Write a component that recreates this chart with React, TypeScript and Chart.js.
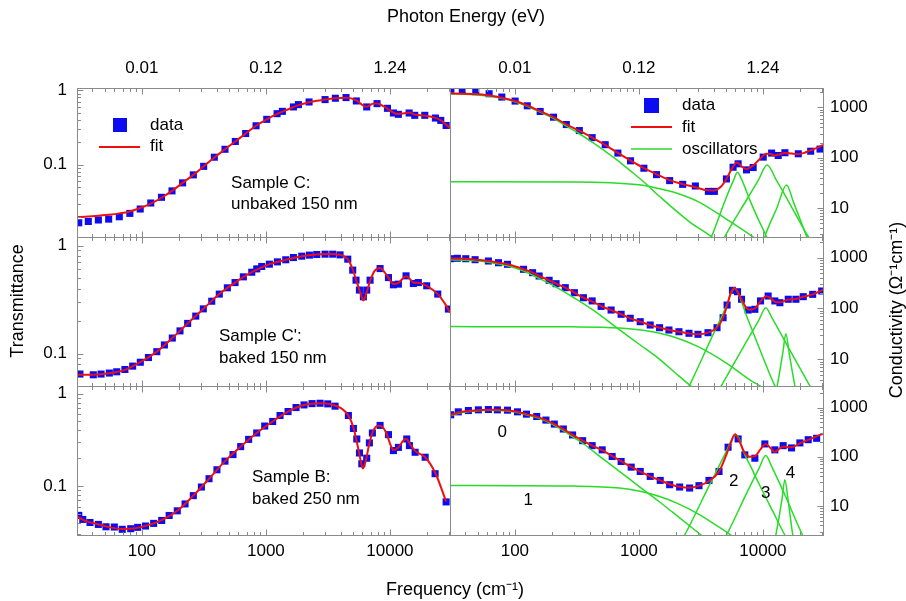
import React, { useEffect, useRef } from "react";
import { Chart, registerables } from "chart.js";

Chart.register(...registerables);

type Pt = [number, number];

// ---------- axes ----------
const FREQ_MIN = 30;
const FREQ_MAX = 30500;
const freqTickValues = [100, 1000, 10000];
const freqTickLabels = ["100", "1000", "10000"];
const energyTickLabels = ["0.01", "0.12", "1.24"];
const transTickValues = [0.1, 1];
const transTickLabels = ["0.1", "1"];
const condTickValues = [10, 100, 1000];
const condTickLabels = ["10", "100", "1000"];

const transRangeC: Pt = [0.0107, 1.07];
const transRangeCp: Pt = [0.05, 1.2];
const transRangeB: Pt = [0.0295, 1.21];
const condRangeC: Pt = [2.67, 2432];
const condRangeCp: Pt = [2.98, 2556];
const condRangeB: Pt = [2.56, 2743];

// ---------- Sample C (unbaked 150 nm) ----------
const transC_data: Pt[] = [
  [31, 0.0166], [37, 0.0173], [44.6, 0.0181], [54, 0.0186], [65.8, 0.02], [80, 0.0222], [97, 0.0254],
  [118, 0.0306], [144, 0.0365], [175, 0.0445], [213, 0.057], [260, 0.073], [315, 0.095], [384, 0.126],
  [468, 0.161], [567, 0.205], [687, 0.262], [833, 0.333], [1016, 0.406], [1231, 0.484], [1358, 0.52],
  [1667, 0.596], [1829, 0.64], [2230, 0.695], [3000, 0.748], [3631, 0.78], [4426, 0.796], [5360, 0.717],
  [6500, 0.596], [7870, 0.66], [9550, 0.571], [10670, 0.494], [11700, 0.474], [14280, 0.494],
  [15850, 0.46], [19100, 0.46], [23260, 0.423], [25700, 0.393], [28380, 0.336],
];
const transC_fit: Pt[] = [
  [30, 0.0198], [37, 0.0202], [44.6, 0.0207], [54, 0.0213], [65.8, 0.0222], [80, 0.0236], [97, 0.0262],
  [118, 0.03], [144, 0.036], [175, 0.0445], [213, 0.057], [260, 0.073], [315, 0.095], [384, 0.125],
  [468, 0.161], [567, 0.205], [687, 0.262], [833, 0.333], [1016, 0.406], [1231, 0.48], [1500, 0.55],
  [1829, 0.63], [2230, 0.69], [3000, 0.75], [3631, 0.78], [4426, 0.79], [5360, 0.73], [6100, 0.62],
  [6500, 0.6], [7300, 0.66], [7870, 0.665], [9000, 0.6], [10670, 0.5], [11700, 0.478], [13000, 0.49],
  [14280, 0.5], [15850, 0.47], [19100, 0.455], [23260, 0.425], [25700, 0.395], [28380, 0.345], [30500, 0.31],
];
const condC_data: Pt[] = [
  [30.5, 2290], [37.7, 2150], [48.4, 2050], [62, 1870], [78.5, 1607], [100.5, 1337], [126, 1077],
  [160, 832], [205, 640], [260, 457], [331, 347], [420, 251], [535, 182], [677, 124], [856, 87],
  [1097, 62], [1388, 46.3], [1770, 35.2], [2254, 29.7], [2853, 27.5], [3633, 21.5], [4060, 21.5],
  [5077, 38], [5745, 64.9], [6310, 75.9], [7370, 57.5], [8340, 64], [10050, 103], [11750, 124],
  [13280, 111], [15040, 126], [19280, 120], [24270, 135], [28860, 149],
];
const condC_fit: Pt[] = [
  [30, 1900], [38, 1880], [48, 1840], [62, 1720], [78.5, 1560], [100.5, 1340], [126, 1090], [160, 840],
  [205, 640], [260, 460], [331, 345], [420, 252], [535, 180], [677, 125], [856, 88], [1097, 62],
  [1388, 47], [1770, 36], [2254, 30], [2853, 26], [3400, 23], [4000, 22.5], [4600, 27], [5077, 38],
  [5600, 60], [6170, 81], [6800, 66], [7370, 60], [8340, 70], [9440, 95], [10700, 120], [11500, 119],
  [12300, 111], [13500, 116], [15000, 125], [17000, 121], [19000, 118], [21500, 125], [24000, 140],
  [27000, 155], [30500, 180],
];
const condC_osc0: Pt[] = [
  [30, 1880], [50, 1760], [80, 1500], [100, 1300], [126, 1055], [160, 805], [205, 605], [260, 425],
  [331, 300], [420, 205], [535, 135], [677, 88], [856, 55], [1097, 33], [1469, 17], [2500, 5.6],
  [3846, 2.7], [5000, 1.6],
];
const condC_osc1: Pt[] = [
  [30, 33.5], [300, 33.2], [1000, 29], [1469, 24.3], [2000, 20], [3000, 13.5], [5000, 6.2], [8650, 2.5], [12000, 1.3],
];
const condC_osc2: Pt[] = [
  [3300, 1.2], [3846, 2.7], [5000, 15], [5800, 36], [6240, 51.5], [6700, 38], [8090, 12], [10700, 2.7], [12500, 1.3],
];
const condC_osc3: Pt[] = [
  [4200, 1.2], [4920, 2.7], [7370, 14.5], [9140, 35], [10800, 72], [12900, 35], [15520, 15.8], [23200, 2.7], [28000, 1.3],
];
const condC_osc4: Pt[] = [
  [9500, 1.2], [10360, 2.7], [12880, 9.7], [15520, 28.8], [17600, 13.3], [22540, 2.7], [25000, 1.4],
];

// ---------- Sample C' (baked 150 nm) ----------
const transCp_data: Pt[] = [
  [31.7, 0.0645], [40.6, 0.0635], [46.9, 0.0645], [54.7, 0.0659], [62.7, 0.0677], [73, 0.0711],
  [84.3, 0.0764], [97.2, 0.083], [113, 0.0918], [132, 0.104], [152, 0.12], [176, 0.139], [203, 0.162],
  [234, 0.19], [272, 0.222], [313, 0.259], [366, 0.305], [421, 0.355], [489, 0.406], [564, 0.454],
  [658, 0.513], [769, 0.566], [844, 0.608], [926, 0.64], [1067, 0.672], [1238, 0.706], [1446, 0.738],
  [1667, 0.774], [1946, 0.797], [2243, 0.815], [2570, 0.826], [3000, 0.832], [3459, 0.832], [3963, 0.82],
  [4571, 0.748], [5012, 0.592], [5330, 0.478], [5675, 0.387], [6110, 0.335], [6500, 0.387], [6918, 0.478],
  [8330, 0.612], [9730, 0.505], [10670, 0.433], [11700, 0.439], [13490, 0.524], [15450, 0.445],
  [16940, 0.454], [19800, 0.424], [24300, 0.355], [29600, 0.258],
];
const transCp_fit: Pt[] = [
  [30, 0.0635], [40, 0.0635], [55, 0.0655], [73, 0.0705], [97, 0.083], [132, 0.104], [176, 0.139],
  [234, 0.19], [313, 0.259], [421, 0.355], [564, 0.454], [769, 0.566], [1067, 0.672], [1446, 0.738],
  [1946, 0.797], [2570, 0.826], [3200, 0.833], [3963, 0.82], [4571, 0.748], [5012, 0.6], [5400, 0.46],
  [5800, 0.36], [6110, 0.31], [6500, 0.37], [6918, 0.47], [7500, 0.58], [8330, 0.62], [9000, 0.57],
  [9730, 0.505], [10670, 0.44], [11700, 0.45], [13490, 0.52], [14500, 0.49], [15450, 0.455],
  [16940, 0.452], [19800, 0.424], [24300, 0.355], [28000, 0.285], [30500, 0.24],
];
const condCp_data: Pt[] = [
  [30.4, 955], [34.4, 973], [40.2, 955], [47.8, 914], [61.2, 861], [73.8, 797], [87.2, 741], [117.5, 591],
  [139, 507], [157, 436], [189, 359], [215, 308], [255, 257], [302, 205], [357, 163], [420, 141],
  [496, 110], [597, 93.3], [719, 76.9], [851, 64.2], [1025, 55], [1234, 47.3], [1468, 41.9], [1747, 37.7],
  [2103, 34.9], [2535, 32.5], [2995, 31], [3606, 33.4], [4265, 41.9], [4773, 65.9], [5140, 117],
  [5680, 228], [6240, 214], [6720, 152], [7600, 93.3], [8610, 96.4], [9570, 141], [11020, 176],
  [12480, 141], [13700, 130], [16000, 152], [18450, 152], [21140, 171], [25180, 190], [29780, 221],
];
const condCp_fit: Pt[] = [
  [30, 960], [34.4, 965], [40.2, 955], [47.8, 915], [61.2, 862], [73.8, 798], [87.2, 740], [117.5, 592],
  [139, 507], [157, 436], [189, 359], [215, 308], [255, 257], [302, 205], [357, 163], [420, 138],
  [496, 112], [597, 93], [719, 77], [851, 64], [1025, 55], [1234, 47], [1468, 42], [1747, 37.7],
  [2103, 34.9], [2535, 32.3], [2995, 31], [3606, 33.5], [4265, 42], [4773, 66], [5140, 115],
  [5500, 200], [5900, 255], [6240, 215], [6720, 150], [7300, 105], [7700, 95], [8610, 100], [9570, 140],
  [10700, 175], [11500, 160], [12480, 135], [13700, 132], [16000, 150], [18450, 154], [21140, 170],
  [25180, 190], [30500, 235],
];
const condCp_osc0: Pt[] = [
  [30, 916], [48, 871], [61, 818], [87, 696], [117.5, 548], [157, 392], [215, 264], [302, 161], [420, 96],
  [700, 38], [1000, 20], [1469, 10], [2000, 5.2], [2565, 3.1], [4000, 1.3],
];
const condCp_osc1: Pt[] = [
  [30, 44], [300, 43.5], [700, 41.5], [1000, 38], [1469, 32.5], [2000, 26.5], [3000, 17.7], [5000, 8.6],
  [8000, 3.8], [9440, 3], [12000, 1.8],
];
const condCp_osc2: Pt[] = [
  [2200, 1.5], [2565, 3.1], [3720, 22], [5080, 113], [5600, 210], [5930, 250], [6300, 200], [7590, 60],
  [9500, 15], [12480, 3], [15000, 1.3],
];
const condCp_osc3: Pt[] = [
  [3800, 1.3], [4620, 3], [7000, 18], [9300, 60], [10540, 104], [11800, 66], [15000, 23], [23900, 3], [29000, 1.3],
];
const condCp_osc4: Pt[] = [
  [12000, 1.2], [13040, 3], [14500, 14], [15300, 32], [16300, 13], [18100, 3], [19500, 1.3],
];

// ---------- Sample B (baked 250 nm) ----------
const transB_data: Pt[] = [
  [31, 0.0481], [33.4, 0.0435], [38.2, 0.0403], [44.6, 0.0384], [51.4, 0.0362], [60, 0.036], [69.5, 0.034],
  [81.3, 0.0345], [92.5, 0.0357], [107, 0.0369], [124.5, 0.0394], [144.5, 0.0424], [166, 0.048],
  [193, 0.0539], [223, 0.064], [260, 0.0787], [302, 0.0975], [348, 0.12], [403, 0.15], [468, 0.186],
  [543, 0.219], [626, 0.267], [726, 0.32], [843, 0.375], [978, 0.446], [1134, 0.5], [1300, 0.58],
  [1509, 0.64], [1750, 0.707], [2030, 0.755], [2356, 0.78], [2733, 0.787], [3154, 0.775], [3612, 0.732],
  [4625, 0.58], [5077, 0.42], [5405, 0.323], [5680, 0.228], [5930, 0.174], [6500, 0.2], [6830, 0.293],
  [7220, 0.375], [8330, 0.453], [9730, 0.36], [10670, 0.242], [11700, 0.262], [13670, 0.323],
  [14360, 0.274], [15960, 0.232], [19230, 0.205], [23130, 0.136], [28380, 0.0673],
];
const transB_fit: Pt[] = [
  [30, 0.0465], [35, 0.042], [45, 0.0383], [55, 0.0358], [70, 0.0343], [85, 0.0346], [100, 0.0362],
  [125, 0.0394], [150, 0.0437], [193, 0.054], [260, 0.0787], [348, 0.12], [468, 0.186], [626, 0.267],
  [843, 0.375], [1134, 0.5], [1509, 0.64], [2030, 0.755], [2733, 0.787], [3300, 0.77], [4000, 0.7],
  [4625, 0.58], [5077, 0.43], [5500, 0.27], [5800, 0.19], [6050, 0.155], [6400, 0.19], [6830, 0.29],
  [7300, 0.39], [8000, 0.45], [8500, 0.445], [9300, 0.38], [10200, 0.27], [10700, 0.245], [11700, 0.262],
  [12800, 0.31], [13500, 0.325], [14500, 0.285], [15960, 0.24], [19230, 0.205], [23130, 0.14], [28380, 0.068],
];
const condB_data: Pt[] = [
  [30.4, 713], [35, 818], [42.2, 869], [50.8, 898], [61.2, 912], [72.3, 898], [87.2, 885], [105, 818],
  [124, 734], [150, 658], [178, 556], [208, 461], [246, 366], [292, 277], [352, 212], [420, 168],
  [506, 138], [609, 101], [719, 80], [867, 61.4], [1025, 50.2], [1234, 39.8], [1486, 33], [1770, 27],
  [2130, 24.2], [2565, 23.1], [3050, 25.8], [3673, 33], [4426, 50.2], [5236, 156], [6310, 230],
  [7145, 109], [8610, 93.3], [10360, 182], [12480, 138], [14560, 168], [17010, 151], [19860, 191],
  [23190, 222], [27100, 237],
];
const condB_fit: Pt[] = [
  [30, 700], [35, 790], [42, 850], [50, 885], [61, 905], [72, 900], [87, 880], [105, 820], [124, 735],
  [150, 655], [178, 556], [208, 462], [246, 366], [292, 278], [352, 212], [420, 168], [506, 136],
  [609, 103], [719, 81], [867, 62], [1025, 50], [1234, 40], [1486, 33], [1770, 27.5], [2130, 24.5],
  [2565, 23.5], [3050, 25.5], [3673, 32], [4426, 50], [5000, 100], [5500, 190], [5960, 285], [6400, 220],
  [7000, 130], [7800, 100], [8610, 102], [9500, 140], [10540, 182], [11500, 150], [12480, 125],
  [13500, 145], [14800, 161], [16000, 156], [17000, 155], [19860, 188], [23190, 220], [26000, 248],
  [30500, 295],
];
const condB_osc0: Pt[] = [
  [30, 674], [35, 764], [42, 824], [50, 859], [61, 879], [72, 874], [87, 854], [105, 794], [124, 709],
  [150, 629], [178, 530], [208, 436], [246, 340], [292, 252], [352, 188], [500, 95], [700, 50],
  [1000, 25], [1469, 12], [2000, 6.5], [3170, 2.56], [4000, 1.6],
];
const condB_osc1: Pt[] = [
  [30, 26], [100, 25.8], [300, 25.3], [700, 23], [1000, 20], [1469, 15.5], [2000, 11.5], [3000, 6.9],
  [4500, 3.6], [6000, 2.2], [8000, 1.3],
];
const condB_osc2: Pt[] = [
  [2000, 1.3], [2340, 2.56], [3720, 27], [5080, 130], [5700, 240], [6040, 275], [6450, 230], [6920, 133],
  [8000, 62], [9440, 26], [12000, 7.8], [15030, 2.56], [18000, 1.2],
];
const condB_osc3: Pt[] = [
  [4200, 1.2], [5080, 2.56], [7360, 17.8], [9300, 58], [10540, 106], [11800, 62], [15030, 16.7],
  [20900, 2.56], [25000, 1.2],
];
const condB_osc4: Pt[] = [
  [11500, 1], [12700, 2.56], [14200, 13], [15030, 34], [15900, 14], [17400, 2.56], [18800, 1],
];

// ---------- text ----------
const sampleLabelLines = [
  ["Sample C:", "unbaked 150 nm"],
  ["Sample C':", "baked 150 nm"],
  ["Sample B:", "baked 250 nm"],
];
const sampleLabelAnchors: Pt[] = [[524, 0.057], [419, 0.143], [773, 0.124]];
const oscNumberLabels = ["0", "1", "2", "3", "4"];
const oscNumberAnchors: Pt[] = [[79, 312], [128, 13], [5820, 32], [10540, 17.8], [16700, 45.2]];
const legendLeftLabels = ["data", "fit"];
const legendRightLabels = ["data", "fit", "oscillators"];
const titleTop = "Photon Energy (eV)";
const titleBottom = "Frequency (cm\u207B\u00B9)";
const titleLeft = "Transmittance";
const titleRight = "Conductivity (\u03A9\u207B\u00B9cm\u207B\u00B9)";

// ---------- styles ----------
const BLUE = "rgb(12,12,240)";
const RED = "rgb(238,16,16)";
const GREEN = "rgb(40,220,40)";
const FRAME = "#8a8a8a";
const FONT = "Arial, 'Liberation Sans', Helvetica, sans-serif";

const PANELS = [
  { x: "xL", y: "yL1", side: "left" },
  { x: "xL", y: "yL2", side: "left" },
  { x: "xL", y: "yL3", side: "left" },
  { x: "xR", y: "yR1", side: "right" },
  { x: "xR", y: "yR2", side: "right" },
  { x: "xR", y: "yR3", side: "right" },
];

const toXY = (p: Pt[]) => p.map(([x, y]) => ({ x, y }));

function dataSet(p: Pt[], xa: string, ya: string) {
  return {
    data: toXY(p), xAxisID: xa, yAxisID: ya, showLine: false,
    pointStyle: "rect", pointRadius: 5, pointBackgroundColor: BLUE, pointBorderWidth: 0,
    borderColor: BLUE, order: 3,
  };
}
function lineSet(p: Pt[], xa: string, ya: string, color: string, width: number, order: number) {
  return {
    data: toXY(p), xAxisID: xa, yAxisID: ya, borderColor: color, borderWidth: width,
    pointRadius: 0, cubicInterpolationMode: "monotone", fill: false, order,
  };
}

function xAxis(pos: string, stack: string, weight: number, labels: string[]) {
  return {
    type: "logarithmic", position: pos, stack, stackWeight: 1, weight,
    min: FREQ_MIN, max: FREQ_MAX,
    grid: { display: false, drawTicks: false }, border: { display: false },
    ticks: {
      autoSkip: false, maxRotation: 0, minRotation: 0, padding: pos === "top" ? 9 : 6.5,
      color: "#000", font: { size: 17, family: FONT },
      callback: (v: number) => { const i = freqTickValues.indexOf(v); return i >= 0 ? labels[i] : ""; },
    },
    afterBuildTicks: (s: any) => { s.ticks = freqTickValues.map((v) => ({ value: v })); },
    afterFit: (s: any) => { s.height = pos === "top" ? 88 : 66; },
  };
}

function yAxis(pos: string, stack: string, weight: number, range: Pt, vals: number[], labels: string[]) {
  return {
    type: "logarithmic", position: pos, stack, stackWeight: 1, weight,
    min: range[0], max: range[1],
    grid: { display: false, drawTicks: false }, border: { display: false },
    ticks: {
      autoSkip: false, padding: pos === "left" ? 10 : 7, color: "#000", font: { size: 17, family: FONT },
      callback: (v: number) => { const i = vals.indexOf(v); return i >= 0 ? labels[i] : ""; },
    },
    afterBuildTicks: (s: any) => {
      s.ticks = vals.filter((v) => v >= range[0] && v <= range[1]).map((v) => ({ value: v }));
    },
    afterFit: (s: any) => { s.width = pos === "left" ? 77 : 83; },
  };
}

function logTickList(min: number, max: number) {
  const out: { v: number; major: boolean }[] = [];
  for (let e = Math.floor(Math.log10(min)); e <= Math.ceil(Math.log10(max)); e++) {
    for (let m = 1; m <= 9; m++) {
      const v = m * Math.pow(10, e);
      if (v >= min * 0.999 && v <= max * 1.001) out.push({ v, major: m === 1 });
    }
  }
  return out;
}

const decorations = {
  id: "decorations",
  afterDatasetsDraw(chart: any) {
    const ctx = chart.ctx as CanvasRenderingContext2D;
    ctx.save();
    ctx.strokeStyle = FRAME;
    ctx.lineWidth = 1;
    for (const p of PANELS) {
      const xs = chart.scales[p.x];
      const ys = chart.scales[p.y];
      const L = Math.round(xs.left) + 0.5, R = Math.round(xs.right) + 0.5;
      const T = Math.round(ys.top) + 0.5, B = Math.round(ys.bottom) + 0.5;
      ctx.beginPath();
      for (const t of logTickList(xs.min, xs.max)) {
        const x = Math.round(xs.getPixelForValue(t.v)) + 0.5;
        const len = t.major ? 6 : 3.5;
        ctx.moveTo(x, B); ctx.lineTo(x, B - len);
        ctx.moveTo(x, T); ctx.lineTo(x, T + len);
      }
      for (const t of logTickList(ys.min, ys.max)) {
        const y = Math.round(ys.getPixelForValue(t.v)) + 0.5;
        const len = t.major ? 6 : 3.5;
        if (p.side === "left") { ctx.moveTo(L, y); ctx.lineTo(L + len, y); }
        else { ctx.moveTo(R, y); ctx.lineTo(R - len, y); }
      }
      ctx.stroke();
      ctx.strokeRect(L, T, R - L, B - T);
    }

    ctx.fillStyle = "#000";
    ctx.textBaseline = "middle";
    ctx.font = `17px ${FONT}`;
    ctx.textAlign = "left";
    // sample labels
    const leftY = ["yL1", "yL2", "yL3"];
    sampleLabelLines.forEach((lines, i) => {
      const xs = chart.scales.xL, ys = chart.scales[leftY[i]];
      const x = xs.getPixelForValue(sampleLabelAnchors[i][0]);
      const y = ys.getPixelForValue(sampleLabelAnchors[i][1]);
      lines.forEach((t, k) => ctx.fillText(t, x, y + k * 21.5));
    });
    // oscillator numbers
    ctx.textAlign = "center";
    oscNumberLabels.forEach((t, i) => {
      const x = chart.scales.xR.getPixelForValue(oscNumberAnchors[i][0]);
      const y = chart.scales.yR3.getPixelForValue(oscNumberAnchors[i][1]);
      ctx.fillText(t, x, y);
    });

    // legend in top-left panel
    {
      const L = chart.scales.xL.left, T = chart.scales.yL1.top;
      ctx.fillStyle = BLUE;
      ctx.fillRect(L + 36, T + 30, 14, 14);
      ctx.strokeStyle = RED; ctx.lineWidth = 2;
      ctx.beginPath(); ctx.moveTo(L + 22, T + 59); ctx.lineTo(L + 63, T + 59); ctx.stroke();
      ctx.fillStyle = "#000"; ctx.textAlign = "left";
      ctx.fillText(legendLeftLabels[0], L + 73, T + 37);
      ctx.fillText(legendLeftLabels[1], L + 73, T + 58);
    }
    // legend in top-right panel
    {
      const L = chart.scales.xR.left, T = chart.scales.yR1.top;
      ctx.fillStyle = BLUE;
      ctx.fillRect(L + 194, T + 10, 15, 15);
      ctx.strokeStyle = RED; ctx.lineWidth = 2;
      ctx.beginPath(); ctx.moveTo(L + 181, T + 39); ctx.lineTo(L + 222, T + 39); ctx.stroke();
      ctx.strokeStyle = GREEN; ctx.lineWidth = 1.5;
      ctx.beginPath(); ctx.moveTo(L + 181, T + 61); ctx.lineTo(L + 222, T + 61); ctx.stroke();
      ctx.fillStyle = "#000"; ctx.textAlign = "left";
      ctx.fillText(legendRightLabels[0], L + 232, T + 17);
      ctx.fillText(legendRightLabels[1], L + 232, T + 39);
      ctx.fillText(legendRightLabels[2], L + 232, T + 61);
    }

    // axis titles
    ctx.font = `18px ${FONT}`;
    ctx.textAlign = "center";
    ctx.fillStyle = "#000";
    ctx.fillText(titleTop, 466, 17);
    ctx.fillText(titleBottom, 455, 590);
    ctx.save();
    ctx.translate(18, 301);
    ctx.rotate(-Math.PI / 2);
    ctx.fillText(titleLeft, 0, 0);
    ctx.restore();
    ctx.save();
    ctx.translate(897, 310);
    ctx.rotate(-Math.PI / 2);
    ctx.fillText(titleRight, 0, 0);
    ctx.restore();

    ctx.restore();
  },
};

function buildConfig(): any {
  const datasets: any[] = [
    dataSet(transC_data, "xL", "yL1"), lineSet(transC_fit, "xL", "yL1", RED, 2, 1),
    dataSet(transCp_data, "xL", "yL2"), lineSet(transCp_fit, "xL", "yL2", RED, 2, 1),
    dataSet(transB_data, "xL", "yL3"), lineSet(transB_fit, "xL", "yL3", RED, 2, 1),
    dataSet(condC_data, "xR", "yR1"), lineSet(condC_fit, "xR", "yR1", RED, 2, 1),
    dataSet(condCp_data, "xR", "yR2"), lineSet(condCp_fit, "xR", "yR2", RED, 2, 1),
    dataSet(condB_data, "xR", "yR3"), lineSet(condB_fit, "xR", "yR3", RED, 2, 1),
  ];
  [condC_osc0, condC_osc1, condC_osc2, condC_osc3, condC_osc4].forEach((o) =>
    datasets.push(lineSet(o, "xR", "yR1", GREEN, 1.5, 2)));
  [condCp_osc0, condCp_osc1, condCp_osc2, condCp_osc3, condCp_osc4].forEach((o) =>
    datasets.push(lineSet(o, "xR", "yR2", GREEN, 1.5, 2)));
  [condB_osc0, condB_osc1, condB_osc2, condB_osc3, condB_osc4].forEach((o) =>
    datasets.push(lineSet(o, "xR", "yR3", GREEN, 1.5, 2)));

  return {
    type: "line",
    data: { datasets },
    options: {
      animation: false,
      responsive: false,
      events: [],
      layout: { padding: 0 },
      plugins: { legend: { display: false }, tooltip: { enabled: false }, title: { display: false } },
      scales: {
        xL: xAxis("bottom", "xb", 1, freqTickLabels),
        xR: xAxis("bottom", "xb", 2, freqTickLabels),
        xLt: xAxis("top", "xt", 2, energyTickLabels),
        xRt: xAxis("top", "xt", 1, energyTickLabels),
        yL1: yAxis("left", "yl", 3, transRangeC, transTickValues, transTickLabels),
        yL2: yAxis("left", "yl", 2, transRangeCp, transTickValues, transTickLabels),
        yL3: yAxis("left", "yl", 1, transRangeB, transTickValues, transTickLabels),
        yR1: yAxis("right", "yr", 1, condRangeC, condTickValues, condTickLabels),
        yR2: yAxis("right", "yr", 2, condRangeCp, condTickValues, condTickLabels),
        yR3: yAxis("right", "yr", 3, condRangeB, condTickValues, condTickLabels),
      },
    },
    plugins: [decorations],
  };
}

export default function App() {
  const ref = useRef<HTMLCanvasElement>(null);
  useEffect(() => {
    Chart.defaults.font.family = FONT;
    Chart.defaults.color = "#000";
    const chart = new Chart(ref.current as HTMLCanvasElement, buildConfig());
    return () => chart.destroy();
  }, []);
  return (
    <div style={{ position: "absolute", left: 0, top: 0, width: 906, height: 601, background: "#fff" }}>
      <canvas ref={ref} width={906} height={601} style={{ display: "block", width: 906, height: 601 }} />
    </div>
  );
}
